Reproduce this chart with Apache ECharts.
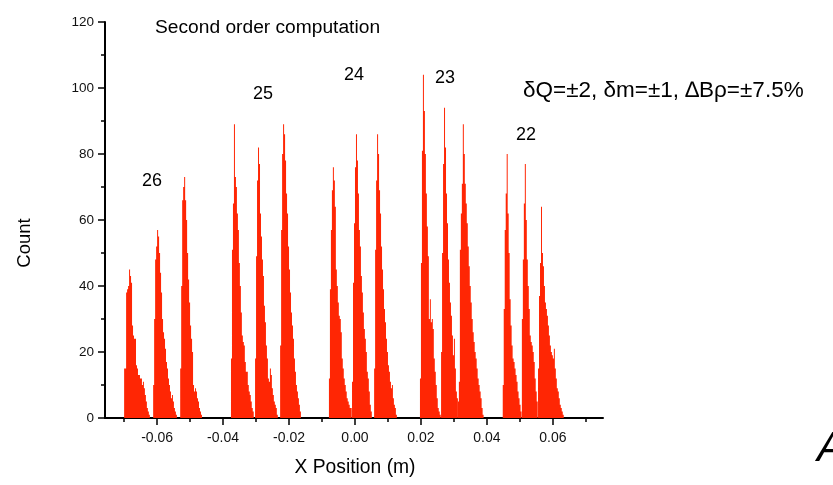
<!DOCTYPE html>
<html>
<head>
<meta charset="utf-8">
<script src="https://cdn.jsdelivr.net/npm/echarts@6/dist/echarts.min.js"></script>
<style>
html,body{margin:0;padding:0;background:#fff;}
#chart{width:833px;height:485px;}
</style>
</head>
<body>
<div id="chart"></div>
<script>
// ---- data ----
const binWidth = 0.0003; // m
const chargeLabels = ['26', '25', '24', '23', '22'];
const xTicks = [-0.06, -0.04, -0.02, 0, 0.02, 0.04, 0.06];
const xMinorTicks = [-0.07, -0.05, -0.03, -0.01, 0.01, 0.03, 0.05, 0.07];

// start positions (m) of each peak's first bin
const peakStarts = [-0.0700, -0.0612, -0.0530,
                    -0.0376, -0.0303, -0.0227,
                    -0.0079, -0.0009, 0.0058,
                     0.0197, 0.0261, 0.0312,
                     0.0448, 0.0506, 0.0555];

// counts per bin
const q26a = [15,15,38,39,40,45,43,41,28,25,24,24,16,15,13,13,12,12,10,11,9,7,5,3,2,1];
const q26b = [10,30,48,52,57,55,50,44,38,30,26,24,21,17,15,12,10,8,6,7,5,3,2,1];
const q26c = [15,40,66,70,73,66,60,50,42,35,28,24,20,10,8,9,8,6,5,3,2,1];
const q25a = [18,51,65,89,73,70,62,57,47,40,32,25,23,22,17,14,14,10,8,7,5,3,2];
const q25b = [18,49,72,82,77,62,55,48,43,34,29,22,18,12,11,15,13,9,7,5,4,3,1];
const q25c = [22,57,80,89,86,78,68,62,52,45,38,32,28,24,18,14,10,8,6,4,2];
const q24a = [12,39,57,69,76,72,64,45,40,35,31,30,26,18,15,12,10,8,6,5,4,3,3];
const q24b = [11,41,59,76,86,78,68,57,52,43,38,32,27,24,20,14,12,8,4,2];
const q24c = [15,51,72,86,80,69,62,52,45,39,33,29,24,20,16,14,11,9,10,6,4,3,1];
const q23a = [12,47,81,104,93,80,68,58,49,30,36,29,30,27,18,14,10,6,3,2,1];
const q23b = [20,50,77,94,82,68,59,48,41,35,31,25,19,24,15,8,6];
const q23c = [5,11,51,62,71,89,80,71,65,59,52,46,40,35,30,26,23,20,18,15,12,10,8,6,3,1];
const q22a = [10,33,57,68,80,62,50,36,28,22,18,17,15,13,11,8,6,4,2];
const q22b = [30,48,65,77,60,48,40,33,25,23,22,20,17,12,8,5];
const q22c = [15,37,47,64,50,46,40,35,33,31,28,25,22,20,19,18,21,15,12,9,8,6,4,3,2,1];

const peakCounts = [q26a, q26b, q26c, q25a, q25b, q25c, q24a, q24b, q24c,
                    q23a, q23b, q23c, q22a, q22b, q22c];

// ---- chart ----
const FONT = '"Liberation Sans", Arial, sans-serif';
const chart = echarts.init(document.getElementById('chart'), null, {renderer: 'canvas'});

const seriesData = peakStarts.map((s, i) => [s, Math.max.apply(null, peakCounts[i]), i]);

const option = {
  animation: false,
  backgroundColor: '#fff',
  grid: {left: 105, right: 230, top: 22, bottom: 67, containLabel: false},
  xAxis: [{
    type: 'value',
    min: -0.0758,
    max: 0.0752,
    position: 'bottom',
    axisLine: {show: true, onZero: false, lineStyle: {color: '#000', width: 2}},
    axisTick: {show: true, customValues: xTicks, length: 7, lineStyle: {color: '#000', width: 1.5}},
    axisLabel: {customValues: xTicks, formatter: v => v.toFixed(2), margin: 13,
                fontSize: 14, color: '#111', fontFamily: FONT},
    splitLine: {show: false}
  }, {
    type: 'value',
    min: -0.0758,
    max: 0.0752,
    position: 'bottom',
    axisLine: {show: false, onZero: false},
    axisTick: {show: true, customValues: xMinorTicks, length: 4, lineStyle: {color: '#000', width: 1.5}},
    axisLabel: {show: false},
    splitLine: {show: false}
  }],
  yAxis: {
    type: 'value',
    min: 0,
    max: 120,
    interval: 20,
    position: 'left',
    axisLine: {show: true, onZero: false, lineStyle: {color: '#000', width: 2}},
    axisTick: {show: true, length: 7, lineStyle: {color: '#000', width: 1.5}},
    minorTick: {show: true, splitNumber: 2, length: 4, lineStyle: {color: '#000', width: 1.5}},
    axisLabel: {margin: 11, fontSize: 13.5, color: '#111', fontFamily: FONT},
    splitLine: {show: false},
    minorSplitLine: {show: false}
  },
  series: [{
    type: 'custom',
    xAxisIndex: 0,
    data: seriesData,
    encode: {x: 0, y: 1},
    renderItem: function (params, api) {
      const start = api.value(0);
      const idx = api.value(2);
      const counts = peakCounts[idx];
      const pts = [api.coord([start, 0])];
      for (let k = 0; k < counts.length; k++) {
        pts.push(api.coord([start + k * binWidth, counts[k]]));
        pts.push(api.coord([start + (k + 1) * binWidth, counts[k]]));
      }
      pts.push(api.coord([start + counts.length * binWidth, 0]));
      return {type: 'polygon', shape: {points: pts}, style: {fill: '#ff2604', stroke: null}};
    }
  }],
  graphic: [
    {type: 'text', x: 155, y: 28, style: {text: 'Second order computation', font: '19.2px ' + FONT, fill: '#000', textAlign: 'left', verticalAlign: 'middle'}},
    {type: 'text', x: 523, y: 91, style: {text: 'δQ=±2, δm=±1, ∆Bρ=±7.5%', font: '22.5px ' + FONT, fill: '#000', textAlign: 'left', verticalAlign: 'middle'}},
    {type: 'text', x: 152, y: 181, style: {text: chargeLabels[0], font: '18px ' + FONT, fill: '#000', textAlign: 'center', verticalAlign: 'middle'}},
    {type: 'text', x: 263, y: 94, style: {text: chargeLabels[1], font: '18px ' + FONT, fill: '#000', textAlign: 'center', verticalAlign: 'middle'}},
    {type: 'text', x: 354, y: 75, style: {text: chargeLabels[2], font: '18px ' + FONT, fill: '#000', textAlign: 'center', verticalAlign: 'middle'}},
    {type: 'text', x: 445, y: 78, style: {text: chargeLabels[3], font: '18px ' + FONT, fill: '#000', textAlign: 'center', verticalAlign: 'middle'}},
    {type: 'text', x: 526, y: 135, style: {text: chargeLabels[4], font: '18px ' + FONT, fill: '#000', textAlign: 'center', verticalAlign: 'middle'}},
    {type: 'text', x: 25, y: 243, rotation: Math.PI / 2, style: {text: 'Count', font: '18.5px ' + FONT, fill: '#000', textAlign: 'center', verticalAlign: 'middle'}},
    {type: 'text', x: 355, y: 468, style: {text: 'X Position (m)', font: '19.3px ' + FONT, fill: '#000', textAlign: 'center', verticalAlign: 'middle'}},
    {type: 'text', x: 817, y: 449, style: {text: 'A', font: 'italic 42px ' + FONT, fill: '#000', textAlign: 'left', verticalAlign: 'middle'}}
  ]
};
chart.setOption(option);
</script>
</body>
</html>
